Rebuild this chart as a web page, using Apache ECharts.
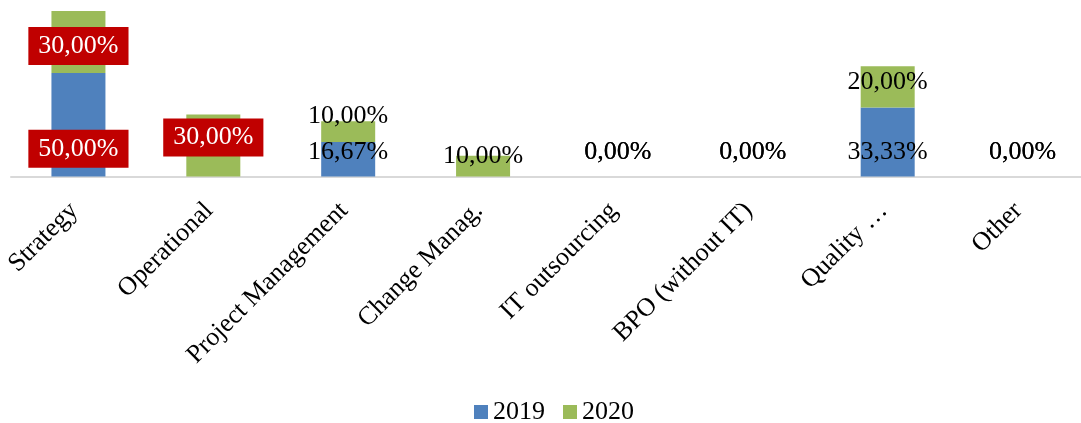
<!DOCTYPE html>
<html>
<head>
<meta charset="utf-8">
<script src="https://cdn.jsdelivr.net/npm/echarts@6/dist/echarts.min.js"></script>
<style>
html,body{margin:0;padding:0;background:#fff;overflow:hidden;}
#wrap{width:1081px;height:423px;overflow:hidden;}
#chart{width:1100px;height:423px;}
</style>
</head>
<body>
<div id="wrap"><div id="chart"></div></div>
<script>
var categories = ['Strategy', 'Operational', 'Project Management', 'Change Manag.', 'IT outsourcing', 'BPO (without IT)', 'Quality …', 'Other'];
var values2019 = [50, 0, 16.67, 0, 0, 0, 33.33, 0];
var values2020 = [30, 30, 10, 10, 0, 0, 20, 0];
var seriesNames = ['2019', '2020'];

// label styling (vertical offsets from segment centre, highlight boxes, hidden labels)
var offsets2019 = [24, 0, -7, 0, -24, -24, 10, -24];
var offsets2020 = [4, -8, -15, -10, -24, -24, -5, -24];
var hidden2019 = [false, true, false, true, false, false, false, false];
var red2019 = [true, false, false, false, false, false, false, false];
var red2020 = [true, true, false, false, false, false, false, false];

var FONT = '"Liberation Serif", "Times New Roman", serif';

function fmt(v) { return v.toFixed(2).replace('.', ',') + '%'; }

function buildData(values, offsets, red, hidden) {
  return values.map(function (v, i) {
    var lbl = {
      show: !(hidden && hidden[i]),
      position: 'inside',
      offset: [0, offsets[i]],
      formatter: fmt(v),
      fontFamily: FONT,
      fontSize: 26,
      color: '#000'
    };
    if (red[i]) {
      lbl.backgroundColor = '#C00000';
      lbl.color = '#fff';
      lbl.padding = [6, 10, 6, 10];
    }
    return { value: v, label: lbl };
  });
}

var chart = echarts.init(document.getElementById('chart'), null, { renderer: 'canvas' });
chart.setOption({
  animation: false,
  backgroundColor: '#fff',
  color: ['#4F81BD', '#9BBB59'],
  grid: { left: 11, top: 11, right: 10, height: 165.5, containLabel: false },
  legend: {
    data: seriesNames,
    top: 394,
    left: 469,
    icon: 'rect',
    itemWidth: 14,
    itemHeight: 14,
    itemGap: 18,
    textStyle: { fontFamily: FONT, fontSize: 26, color: '#000' }
  },
  xAxis: {
    type: 'category',
    data: categories,
    axisLine: { lineStyle: { color: '#D9D9D9', width: 2 } },
    axisTick: { show: false },
    axisLabel: {
      rotate: 45,
      interval: 0,
      margin: 26,
      padding: [0, 6, 0, 0],
      fontFamily: FONT,
      fontSize: 26,
      color: '#000'
    }
  },
  yAxis: {
    type: 'value',
    min: 0,
    max: 80,
    show: false,
    splitLine: { show: false }
  },
  series: [
    {
      name: seriesNames[0],
      type: 'bar',
      stack: 'total',
      barWidth: 54,
      data: buildData(values2019, offsets2019, red2019, hidden2019)
    },
    {
      name: seriesNames[1],
      type: 'bar',
      stack: 'total',
      barWidth: 54,
      data: buildData(values2020, offsets2020, red2020, null)
    }
  ]
});
</script>
</body>
</html>
